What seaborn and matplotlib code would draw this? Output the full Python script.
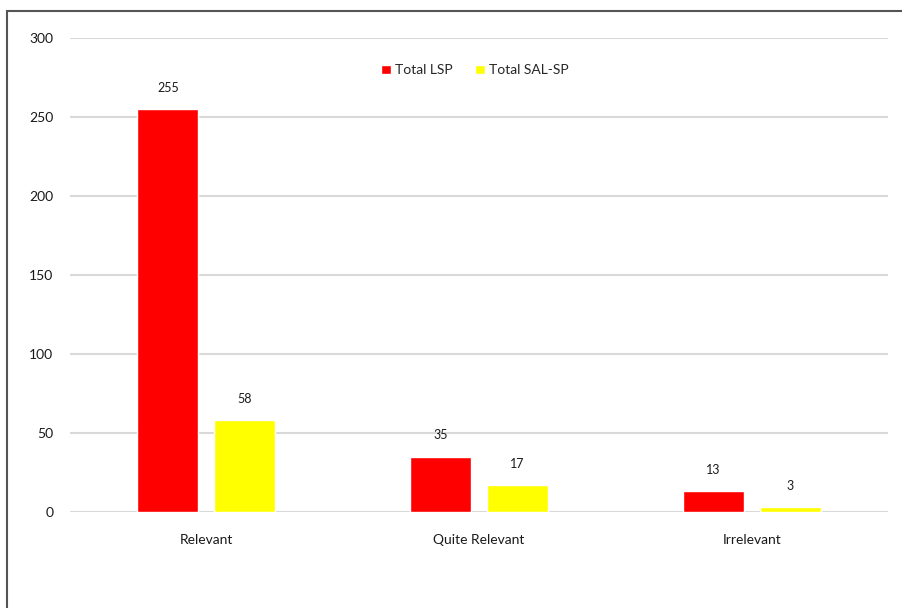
import matplotlib
matplotlib.use("Agg")
import matplotlib.pyplot as plt
import seaborn as sns
import pandas as pd
from matplotlib.patches import Rectangle

categories = ["Relevant", "Quite Relevant", "Irrelevant"]
series_names = ["Total LSP", "Total SAL-SP"]
lsp_values = [255, 35, 13]
salsp_values = [58, 17, 3]
y_ticks = [0, 50, 100, 150, 200, 250, 300]

df = pd.DataFrame({
    "category": categories * 2,
    "series": [series_names[0]] * 3 + [series_names[1]] * 3,
    "value": lsp_values + salsp_values,
})

sns.set_theme(style="white")
plt.rcParams["font.family"] = ["Lato", "DejaVu Sans"]

fig = plt.figure(figsize=(9.02, 6.08), dpi=100)
ax = fig.add_axes([70/902, 96/608, 818/902, 474/608])

sns.barplot(data=df, x="category", y="value", hue="series",
            palette=["#ff0000", "#ffff00"], width=0.565, gap=0.208,
            saturation=1, ax=ax, legend=True)

ax.set_ylim(0, 300)
ax.set_xlim(-0.5, 2.5)
ax.set_yticks(y_ticks)
ax.set_yticklabels([str(t) for t in y_ticks], fontsize=10, color="#1a1a1a")
ax.tick_params(axis="x", length=0, pad=16, labelsize=10, labelcolor="#1a1a1a")
ax.tick_params(axis="y", length=0, pad=12)
ax.set_xlabel("")
ax.set_ylabel("")
for s in ax.spines.values():
    s.set_visible(False)
ax.yaxis.grid(True, color="#d9d9d9", linewidth=1.5)
ax.set_axisbelow(True)

for cont in ax.containers:
    ax.bar_label(cont, padding=11, fontsize=9, color="#1a1a1a")

leg = ax.legend(loc="center", bbox_to_anchor=(0.495, 0.932), ncol=2, frameon=False,
                fontsize=10, handlelength=0.7, handleheight=0.7, handletextpad=0.3,
                columnspacing=1.6)

fig.patches.append(Rectangle((7/902, -0.1), 1.2, (608 - 11)/608 + 0.1,
                             transform=fig.transFigure, fill=False,
                             edgecolor="#555555", linewidth=1.5))

fig.savefig("out.png", dpi=100)
